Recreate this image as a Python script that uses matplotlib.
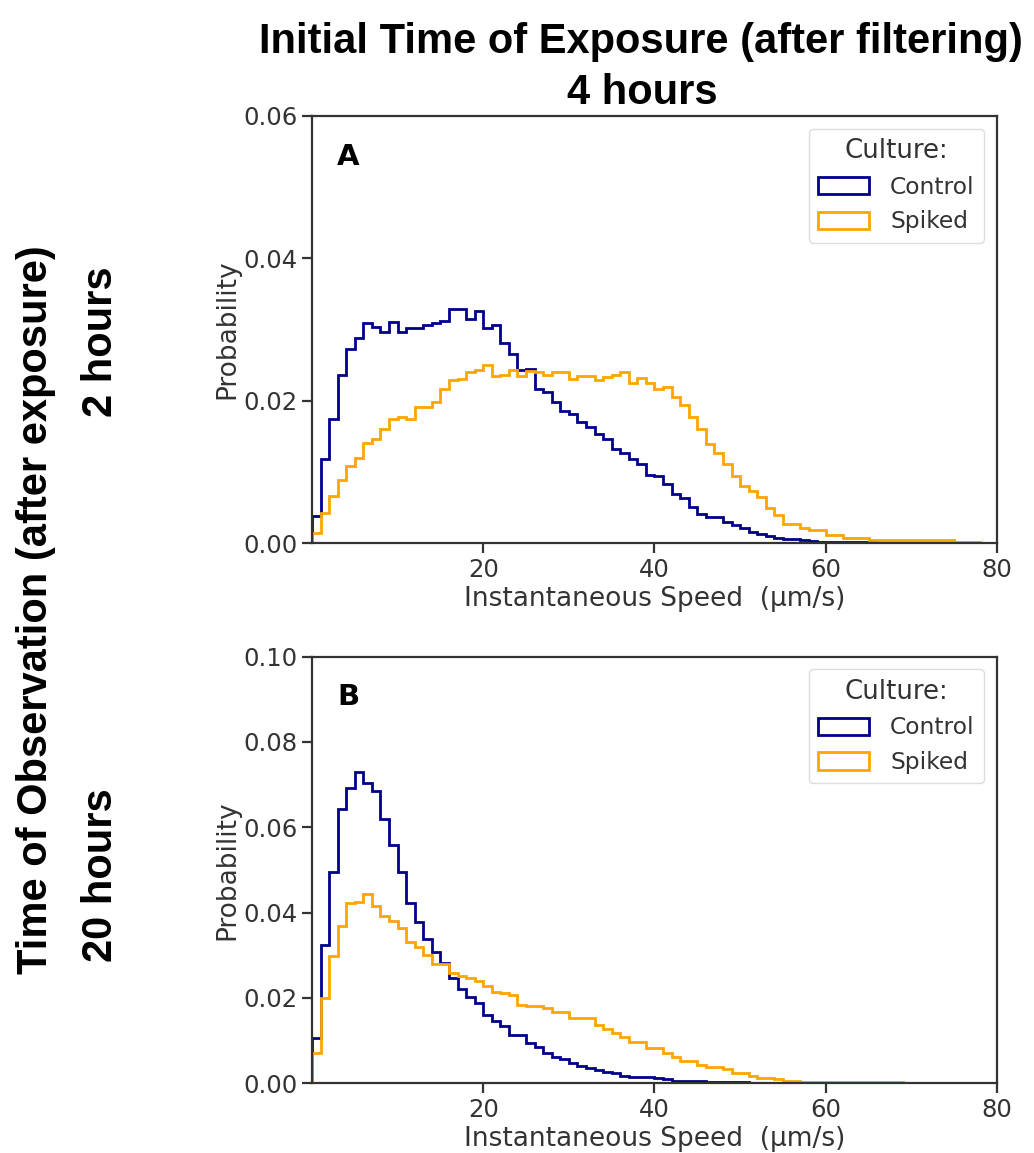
import numpy as np
import matplotlib
matplotlib.use("Agg")
import matplotlib.pyplot as plt

# per-bin probabilities, 1 µm/s bins from 0 to 80
edges = np.arange(0, 81, 1)

ctrl_2h = [0.0039, 0.0118, 0.0175, 0.0237, 0.0273, 0.0288, 0.0309, 0.0304, 0.0296, 0.0311,
           0.0296, 0.0302, 0.0302, 0.0306, 0.0310, 0.0312, 0.0329, 0.0329, 0.0315, 0.0326,
           0.0302, 0.0306, 0.0281, 0.0266, 0.0243, 0.0245, 0.0217, 0.0212, 0.0198, 0.0186,
           0.0182, 0.0170, 0.0163, 0.0153, 0.0146, 0.0132, 0.0127, 0.0118, 0.0112, 0.0096,
           0.0094, 0.0083, 0.0069, 0.0063, 0.0051, 0.0041, 0.0037, 0.0037, 0.0030, 0.0026,
           0.0021, 0.0016, 0.0013, 0.0010, 0.0008, 0.0006, 0.0006, 0.0005, 0.0003, 0.0002,
           0.0002, 0.0002, 0.0002, 0.0002, 0.0002, 0.0002, 0.0001, 0.0001, 0.0001, 0.0001,
           0.0001, 0, 0, 0, 0, 0, 0, 0, 0, 0]

spiked_2h = [0.0015, 0.0042, 0.0066, 0.0089, 0.0109, 0.0120, 0.0141, 0.0147, 0.0161, 0.0174,
             0.0177, 0.0175, 0.0191, 0.0191, 0.0198, 0.0216, 0.0229, 0.0231, 0.0240, 0.0244,
             0.0250, 0.0235, 0.0237, 0.0244, 0.0235, 0.0242, 0.0240, 0.0237, 0.0240, 0.0241,
             0.0230, 0.0235, 0.0235, 0.0229, 0.0234, 0.0237, 0.0240, 0.0225, 0.0232, 0.0225,
             0.0216, 0.0219, 0.0205, 0.0194, 0.0177, 0.0161, 0.0140, 0.0127, 0.0112, 0.0094,
             0.0080, 0.0074, 0.0065, 0.0049, 0.0040, 0.0027, 0.0027, 0.0021, 0.0018, 0.0018,
             0.0012, 0.0012, 0.0007, 0.0007, 0.0007, 0.0005, 0.0005, 0.0005, 0.0004, 0.0004,
             0.0004, 0.0004, 0.0004, 0.0004, 0.0004, 0.0002, 0.0002, 0.0002, 0.0001, 0.0001]

ctrl_20h = [0.0107, 0.0324, 0.0496, 0.0644, 0.0691, 0.0730, 0.0703, 0.0686, 0.0619, 0.0558,
            0.0494, 0.0422, 0.0379, 0.0337, 0.0308, 0.0281, 0.0246, 0.0220, 0.0203, 0.0188,
            0.0159, 0.0147, 0.0134, 0.0112, 0.0112, 0.0094, 0.0085, 0.0071, 0.0062, 0.0056,
            0.0048, 0.0041, 0.0035, 0.0031, 0.0027, 0.0023, 0.0017, 0.0015, 0.0015, 0.0015,
            0.0013, 0.0009, 0.0006, 0.0006, 0.0006, 0.0006, 0.0004, 0.0004, 0.0004, 0.0004,
            0.0004, 0, 0, 0, 0, 0, 0, 0, 0, 0,
            0, 0, 0, 0, 0, 0, 0, 0, 0, 0,
            0, 0, 0, 0, 0, 0, 0, 0, 0, 0]

spiked_20h = [0.0072, 0.0199, 0.0298, 0.0369, 0.0423, 0.0426, 0.0443, 0.0416, 0.0392, 0.0381,
              0.0363, 0.0332, 0.0320, 0.0301, 0.0280, 0.0280, 0.0258, 0.0251, 0.0246, 0.0240,
              0.0228, 0.0215, 0.0211, 0.0207, 0.0184, 0.0182, 0.0180, 0.0176, 0.0166, 0.0166,
              0.0152, 0.0152, 0.0152, 0.0137, 0.0127, 0.0117, 0.0108, 0.0096, 0.0096, 0.0082,
              0.0082, 0.0070, 0.0062, 0.0051, 0.0051, 0.0043, 0.0039, 0.0039, 0.0033, 0.0023,
              0.0023, 0.0017, 0.0013, 0.0013, 0.0009, 0.0006, 0.0006, 0.0004, 0.0004, 0.0004,
              0.0004, 0.0004, 0.0002, 0.0002, 0.0002, 0.0002, 0.0002, 0.0002, 0.0002, 0,
              0, 0, 0, 0, 0, 0, 0, 0, 0, 0]

panel_letters = ["A", "B"]
row_labels = ["2 hours", "20 hours"]
y_max = [0.06, 0.10]
y_ticks = [[0.00, 0.02, 0.04, 0.06], [0.00, 0.02, 0.04, 0.06, 0.08, 0.10]]
x_ticks = [20, 40, 60, 80]

head_font = "Liberation Sans"
head_size = 30
txt = "#333333"
plt.rcParams["font.family"] = "DejaVu Sans"

fig = plt.figure(figsize=(10.34, 11.53), dpi=100)
axA = fig.add_axes([0.3017, 0.5288, 0.6625, 0.3706])
axB = fig.add_axes([0.3017, 0.0605, 0.6625, 0.3700])

for i, (ax, ctrl, spk) in enumerate([(axA, ctrl_2h, spiked_2h), (axB, ctrl_20h, spiked_20h)]):
    ax.hist(edges[:-1], bins=edges, weights=ctrl, histtype="step", color="darkblue",
            linewidth=2, label="Control")
    ax.hist(edges[:-1], bins=edges, weights=spk, histtype="step", color="orange",
            linewidth=2, label="Spiked")
    ax.set_xlim(0, 80)
    ax.set_ylim(0, y_max[i])
    ax.set_xticks(x_ticks)
    ax.set_yticks(y_ticks[i])
    ax.set_yticklabels([f"{v:.2f}" for v in y_ticks[i]])
    ax.tick_params(labelsize=17.5, colors="#333333", labelcolor=txt, length=7, width=1.6,
                   direction="out")
    for s in ax.spines.values():
        s.set_color("#333333")
        s.set_linewidth(1.6)
    ax.set_xlabel("Instantaneous Speed  (\u00b5m/s)", fontsize=19, color=txt, labelpad=3)
    ax.set_ylabel("Probability", fontsize=19, color=txt, labelpad=2)
    ax.text(0.0526, 0.905, panel_letters[i], transform=ax.transAxes, fontsize=21,
            fontweight="bold", ha="center", va="center", color="black")
    leg = ax.legend(title="Culture:", loc="upper right", fontsize=16.8, title_fontsize=18.7,
                    handlelength=2.2, handleheight=0.77, handletextpad=0.9,
                    borderaxespad=0.55, framealpha=1, fancybox=True)
    leg.get_frame().set_edgecolor("#dddddd")
    for t in leg.get_texts():
        t.set_color(txt)
    leg.get_title().set_color(txt)

fig.text(0.62, 0.964, "Initial Time of Exposure (after filtering)", family=head_font,
         fontsize=head_size, fontweight="bold", ha="center", va="center")
fig.text(0.621, 0.919, "4 hours", family=head_font, fontsize=head_size,
         fontweight="bold", ha="center", va="center")
fig.text(0.035, 0.471, "Time of Observation (after exposure)", family=head_font,
         fontsize=head_size, fontweight="bold", ha="center", va="center", rotation=90)
fig.text(0.098, 0.704, row_labels[0], family=head_font, fontsize=head_size,
         fontweight="bold", ha="center", va="center", rotation=90)
fig.text(0.098, 0.241, row_labels[1], family=head_font, fontsize=head_size,
         fontweight="bold", ha="center", va="center", rotation=90)

fig.savefig("out.png", dpi=100)
